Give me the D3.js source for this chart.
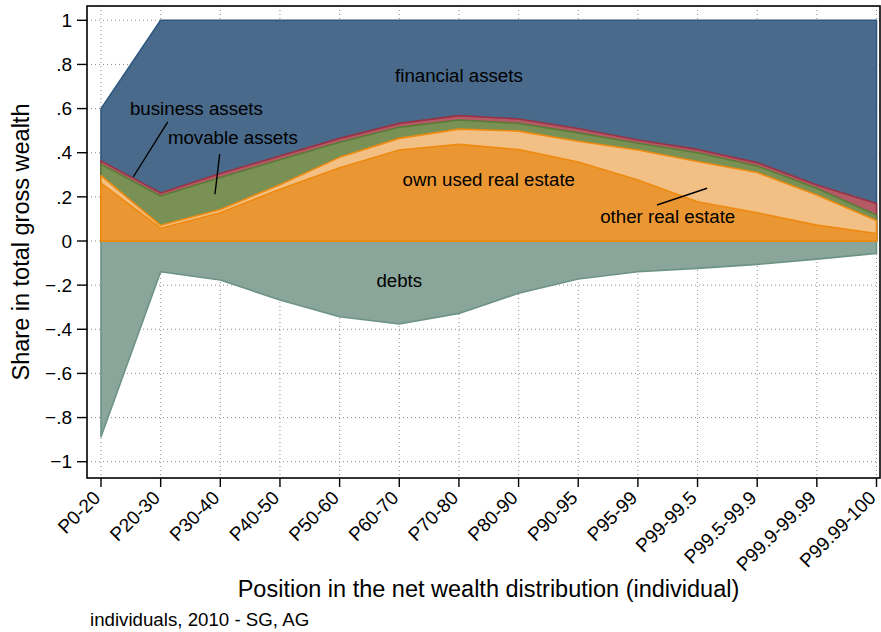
<!DOCTYPE html>
<html>
<head>
<meta charset="utf-8">
<script src="https://cdn.jsdelivr.net/npm/d3@7"></script>
<style>
  body { margin: 0; background: #fff; }
  text { font-family: "Liberation Sans", Arial, sans-serif; fill: #000; }
</style>
</head>
<body>
<svg id="chart" width="881" height="632"></svg>
<script>
var categories = ["P0-20", "P20-30", "P30-40", "P40-50", "P50-60", "P60-70", "P70-80",
  "P80-90", "P90-95", "P95-99", "P99-99.5", "P99.5-99.9", "P99.9-99.99", "P99.99-100"];

// shares in total gross wealth
var ownUsed   = [0.262, 0.058, 0.128, 0.235, 0.332, 0.412, 0.438, 0.414, 0.358, 0.276, 0.178, 0.128, 0.072, 0.034];
var otherRE   = [0.034, 0.013, 0.015, 0.020, 0.047, 0.053, 0.069, 0.084, 0.094, 0.136, 0.182, 0.182, 0.136, 0.059];
var movable   = [0.052, 0.133, 0.145, 0.113, 0.068, 0.050, 0.041, 0.035, 0.038, 0.031, 0.040, 0.030, 0.031, 0.025];
var business  = [0.015, 0.014, 0.018, 0.017, 0.018, 0.018, 0.020, 0.020, 0.020, 0.015, 0.015, 0.015, 0.015, 0.052];
var financial = [0.237, 0.782, 0.694, 0.615, 0.535, 0.467, 0.432, 0.447, 0.490, 0.542, 0.585, 0.645, 0.746, 0.830];
var debts     = [-0.887, -0.139, -0.177, -0.267, -0.343, -0.376, -0.328, -0.237, -0.172, -0.139, -0.124, -0.106, -0.082, -0.056];

var yTicks = [1, 0.8, 0.6, 0.4, 0.2, 0, -0.2, -0.4, -0.6, -0.8, -1];
var yTickLabels = ["1", ".8", ".6", ".4", ".2", "0", "\u2212.2", "\u2212.4", "\u2212.6", "\u2212.8", "\u22121"];

var yTitle = "Share in total gross wealth";
var xTitle = "Position in the net wealth distribution (individual)";
var note = "individuals, 2010 - SG, AG";

// labels placed in data units: [text, category index, value]
var labels = [
  ["financial assets", 6, 0.75],
  ["business assets", 1.6, 0.60],
  ["movable assets", 2.21, 0.47],
  ["own used real estate", 6.5, 0.28],
  ["other real estate", 9.5, 0.11],
  ["debts", 5, -0.18]
];
// pointer lines: [index0, value0, index1, value1]
var pointers = [
  [1.12, 0.54, 0.54, 0.29],
  [1.99, 0.394, 1.91, 0.212],
  [9.32, 0.163, 10.16, 0.239]
];

var svg = d3.select("#chart");
var frame = { left: 87, right: 880, top: 6, bottom: 478 };

var x = d3.scalePoint().domain(categories).range([101, 876.5]);
var xi = d3.scaleLinear().domain([0, categories.length - 1]).range([101, 876.5]);
var y = d3.scaleLinear().domain([-1, 1]).range([461.7, 20.3]);

// grid
var grid = svg.append("g").attr("stroke", "#8c8c8c").attr("stroke-width", 1)
  .attr("stroke-dasharray", "1,3");
grid.selectAll(".hg").data(yTicks).join("line")
  .attr("x1", frame.left).attr("x2", frame.right)
  .attr("y1", function(d) { return y(d); }).attr("y2", function(d) { return y(d); });
grid.selectAll(".vg").data(categories).join("line")
  .attr("y1", frame.top).attr("y2", frame.bottom)
  .attr("x1", function(d) { return x(d); }).attr("x2", function(d) { return x(d); });

// stacked positive parts, drawn as in Stata: each area from 0 to its cumulative top
var layers = [
  { key: "own", values: ownUsed, fill: "#ea9733", stroke: "#ee8a10" },
  { key: "other", values: otherRE, fill: "#f2c084", stroke: "#ee8a10" },
  { key: "movable", values: movable, fill: "#7a9155", stroke: "#5a7c36" },
  { key: "business", values: business, fill: "#b35a66", stroke: "#983244" },
  { key: "financial", values: financial, fill: "#496a8b", stroke: "#2f5881" }
];

var table = categories.map(function(c, i) {
  var row = { cat: c };
  layers.forEach(function(l) { row[l.key] = l.values[i]; });
  return row;
});
var stacked = d3.stack().keys(layers.map(function(l) { return l.key; }))(table);

var area = d3.area()
  .x(function(d) { return x(d.data.cat); })
  .y0(y(0))
  .y1(function(d) { return y(d[1]); });

var debtArea = d3.area()
  .x(function(d, i) { return x(categories[i]); })
  .y0(y(0))
  .y1(function(d) { return y(d); });

svg.append("path").datum(debts)
  .attr("d", debtArea)
  .attr("fill", "#8aa69a")
  .attr("stroke", "#6c9385")
  .attr("stroke-width", 1.6)
  .attr("stroke-linejoin", "round");

stacked.slice().reverse().forEach(function(s) {
  var l = layers[s.index];
  svg.append("path").datum(s)
    .attr("d", area)
    .attr("fill", l.fill)
    .attr("stroke", l.stroke)
    .attr("stroke-width", 1.6)
    .attr("stroke-linejoin", "round");
});

// frame
svg.append("rect")
  .attr("x", frame.left).attr("y", frame.top)
  .attr("width", frame.right - frame.left).attr("height", frame.bottom - frame.top)
  .attr("fill", "none").attr("stroke", "#000").attr("stroke-width", 1.6);

// y axis
var yAxis = svg.append("g");
yAxis.selectAll("line").data(yTicks).join("line")
  .attr("x1", 77).attr("x2", frame.left)
  .attr("y1", function(d) { return y(d); }).attr("y2", function(d) { return y(d); })
  .attr("stroke", "#000").attr("stroke-width", 1.4);
yAxis.selectAll("text").data(yTicks).join("text")
  .attr("x", 72).attr("y", function(d) { return y(d); })
  .attr("dy", "0.35em")
  .attr("text-anchor", "end")
  .attr("font-size", "19px")
  .text(function(d, i) { return yTickLabels[i]; });

// x axis
var xAxis = svg.append("g");
xAxis.selectAll("line").data(categories).join("line")
  .attr("y1", frame.bottom).attr("y2", 487)
  .attr("x1", function(d) { return x(d); }).attr("x2", function(d) { return x(d); })
  .attr("stroke", "#000").attr("stroke-width", 1.4);
xAxis.selectAll("text").data(categories).join("text")
  .attr("transform", function(d) { return "translate(" + (x(d) + 0.5) + ",499) rotate(-45)"; })
  .attr("text-anchor", "end")
  .attr("font-size", "19px")
  .text(function(d) { return d; });

// titles
svg.append("text")
  .attr("transform", "translate(29," + ((frame.top + frame.bottom) / 2) + ") rotate(-90)")
  .attr("text-anchor", "middle")
  .attr("font-size", "23.5px")
  .text(yTitle);

svg.append("text")
  .attr("x", (frame.left + frame.right) / 2 + 5).attr("y", 597)
  .attr("text-anchor", "middle")
  .attr("font-size", "23.5px")
  .text(xTitle);

svg.append("text")
  .attr("x", 90).attr("y", 626)
  .attr("font-size", "18.7px")
  .text(note);

// annotations
svg.selectAll(".lab").data(labels).join("text")
  .attr("x", function(d) { return xi(d[1]); })
  .attr("y", function(d) { return y(d[2]); })
  .attr("dy", "0.35em")
  .attr("text-anchor", "middle")
  .attr("font-size", "18.7px")
  .text(function(d) { return d[0]; });

svg.selectAll(".ptr").data(pointers).join("line")
  .attr("x1", function(d) { return xi(d[0]); })
  .attr("y1", function(d) { return y(d[1]); })
  .attr("x2", function(d) { return xi(d[2]); })
  .attr("y2", function(d) { return y(d[3]); })
  .attr("stroke", "#000").attr("stroke-width", 1.4);
</script>
</body>
</html>
